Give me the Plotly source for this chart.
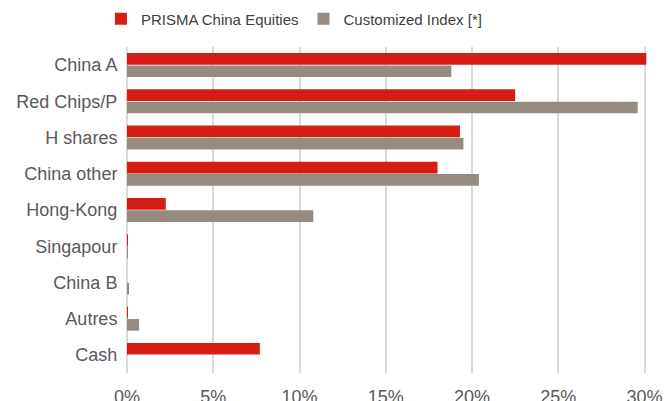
import plotly.graph_objects as go

categories = ["China A", "Red Chips/P", "H shares", "China other", "Hong-Kong",
              "Singapour", "China B", "Autres", "Cash"]
prisma = [30.1, 22.5, 19.3, 18.0, 2.25, 0.05, 0.0, 0.05, 7.7]
index_vals = [18.8, 29.6, 19.5, 20.4, 10.8, 0.05, 0.1, 0.7, 0.0]
tick_vals = [0, 5, 10, 15, 20, 25, 30]
tick_text = ["0%", "5%", "10%", "15%", "20%", "25%", "30%"]

fig = go.Figure()
fig.add_trace(go.Bar(y=categories, x=prisma, orientation="h",
                     name="PRISMA China Equities",
                     marker=dict(color="#D41E13", line=dict(width=0))))
fig.add_trace(go.Bar(y=categories, x=index_vals, orientation="h",
                     name="Customized Index [*]",
                     marker=dict(color="#968B80", line=dict(width=0))))

fig.update_layout(
    width=668, height=401,
    margin=dict(l=127, r=20, t=47, b=28, autoexpand=False),
    paper_bgcolor="white", plot_bgcolor="white",
    barmode="group", bargap=0.32, bargroupgap=0.05,
    font=dict(family="Liberation Sans", color="#595959"),
    legend=dict(orientation="h", x=0.44, xanchor="center", xref="container",
                y=1 - 19 / 401, yanchor="middle", yref="container",
                font=dict(family="Liberation Sans", size=15, color="#404040"),
                itemwidth=30, traceorder="normal"),
    showlegend=True,
)
fig.update_xaxes(range=[0, 30.2], tickvals=tick_vals, ticktext=tick_text,
                 showgrid=True, gridcolor="#D9D9D9", gridwidth=2,
                 zeroline=True, zerolinecolor="#D9D9D9", zerolinewidth=2,
                 tickfont=dict(family="Liberation Sans", size=18, color="#595959"),
                 ticks="outside", ticklen=7, tickcolor="rgba(0,0,0,0)",
                 showline=False, automargin=False)
fig.update_yaxes(autorange="reversed",
                 tickfont=dict(family="Liberation Sans", size=18, color="#595959"),
                 ticks="outside", ticklen=5, tickcolor="rgba(0,0,0,0)",
                 showgrid=False, showline=False, automargin=False)

fig.write_html("out.html", config={"displayModeBar": False},
               post_script="document.body.style.margin='0';document.body.style.overflow='hidden';")
